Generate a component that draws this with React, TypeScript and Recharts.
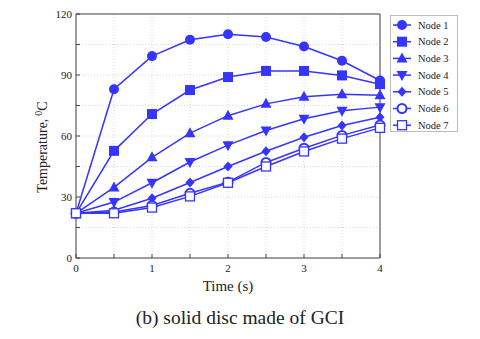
import { LineChart, Line, XAxis, YAxis, CartesianGrid, ReferenceLine, Legend } from 'recharts';

const times = [0, 0.5, 1, 1.5, 2, 2.5, 3, 3.5, 4];
const node1 = [22, 83, 99.3, 107.3, 110, 108.7, 104, 97, 87.3];
const node2 = [22, 52.7, 70.8, 82.6, 89, 92, 92, 89.8, 85.5];
const node3 = [22, 34.7, 49.5, 61.4, 70, 75.8, 79.3, 80.5, 80];
const node4 = [22, 27.5, 37, 47.2, 55.5, 62.7, 68.5, 72.4, 74.2];
const node5 = [22, 23.5, 29.4, 37.1, 45, 52.5, 59.4, 65.2, 69.2];
const node6 = [22, 22.6, 25.8, 31.8, 37.3, 47, 54, 60.3, 65.4];
const node7 = [22, 22, 24.8, 30.3, 37, 45, 52.4, 58.7, 64];

const nodeNames = ['Node 1', 'Node 2', 'Node 3', 'Node 4', 'Node 5', 'Node 6', 'Node 7'];
const nodeShapes = ['circle', 'square', 'triangle', 'triangleDown', 'diamond', 'openCircle', 'openSquare'];
const xTicks = [0, 0.5, 1, 1.5, 2, 2.5, 3, 3.5, 4];
const yTicks = [0, 15, 30, 45, 60, 75, 90, 105, 120];

const BLUE = '#3535ff';
const series = [node1, node2, node3, node4, node5, node6, node7];
const data = times.map((t, i) => {
  const row: Record<string, number> = { t };
  series.forEach((s, k) => (row[`n${k + 1}`] = s[i]));
  return row;
});

const serif = "'Liberation Serif', 'Times New Roman', serif";

function Marker({ shape, cx, cy }: { shape: string; cx: number; cy: number }) {
  switch (shape) {
    case 'circle':
      return <circle cx={cx} cy={cy} r={5} fill={BLUE} />;
    case 'square':
      return <rect x={cx - 5} y={cy - 5} width={10} height={10} fill={BLUE} />;
    case 'triangle':
      return <path d={`M${cx},${cy - 6}L${cx + 5.5},${cy + 4}L${cx - 5.5},${cy + 4}Z`} fill={BLUE} />;
    case 'triangleDown':
      return <path d={`M${cx},${cy + 6}L${cx + 5.5},${cy - 4}L${cx - 5.5},${cy - 4}Z`} fill={BLUE} />;
    case 'diamond':
      return <path d={`M${cx},${cy - 5}L${cx + 4.5},${cy}L${cx},${cy + 5}L${cx - 4.5},${cy}Z`} fill={BLUE} />;
    case 'openCircle':
      return <circle cx={cx} cy={cy} r={4.5} fill="#fff" stroke={BLUE} strokeWidth={2} />;
    default:
      return <rect x={cx - 4.5} y={cy - 4.5} width={9} height={9} fill="#fff" stroke={BLUE} strokeWidth={1.3} />;
  }
}

function LegendBox() {
  return (
    <svg width={68} height={117} style={{ fontFamily: serif }}>
      <rect x={0.5} y={0.5} width={67} height={116} fill="#fff" stroke="#bbb" />
      {nodeNames.map((name, i) => {
        const y = 10 + i * 16.7;
        return (
          <g key={name}>
            <line x1={3} x2={21} y1={y} y2={y} stroke={BLUE} strokeWidth={1.5} />
            <Marker shape={nodeShapes[i]} cx={12} cy={y} />
            <text x={28} y={y + 3.5} fontSize={10.5} fill="#222" style={{ fontFamily: serif }}>
              {name}
            </text>
          </g>
        );
      })}
    </svg>
  );
}

export default function App() {
  return (
    <div style={{ position: 'absolute', left: 0, top: 0, width: 480, height: 339, background: '#fff', fontFamily: serif }}>
      <LineChart width={480} height={339} data={data} margin={{ top: 14, right: 100, bottom: 51, left: 36 }}>
        <CartesianGrid stroke="#d8d8d8" strokeDasharray="1 2" />
        <XAxis
          dataKey="t"
          type="number"
          domain={[0, 4]}
          ticks={xTicks}
          interval={0}
          height={30}
          tickSize={-4}
          tickMargin={10}
          stroke="#444"
          tick={{ fill: '#222', fontSize: 11, fontFamily: serif }}
          tickFormatter={(v: number) => (Number.isInteger(v) ? String(v) : '')}
          label={{ value: 'Time (s)', position: 'insideBottom', offset: -3, fill: '#222', fontSize: 15, fontFamily: serif }}
        />
        <YAxis
          type="number"
          domain={[0, 120]}
          ticks={yTicks}
          interval={0}
          width={40}
          tickSize={-4}
          tickMargin={8}
          stroke="#444"
          tick={{ fill: '#222', fontSize: 11, fontFamily: serif }}
          tickFormatter={(v: number) => (v % 30 === 0 ? String(v) : '')}
          label={{
            content: () => (
              <text transform="translate(47,147) rotate(-90)" textAnchor="middle" fill="#222" fontSize={14} fontFamily={serif}>
                Temperature,
                <tspan dx={3} dy={-5} fontSize={10}>0</tspan>
                <tspan dy={5}>C</tspan>
              </text>
            ),
          }}
        />
        <ReferenceLine x={4} stroke="#444" />
        <ReferenceLine y={120} stroke="#444" />
        {nodeNames.map((name, k) => (
          <Line
            key={name}
            name={name}
            dataKey={`n${k + 1}`}
            stroke={BLUE}
            strokeWidth={1.5}
            isAnimationActive={false}
            dot={(p: any) => <Marker key={`${name}-${p.index}`} shape={nodeShapes[k]} cx={p.cx} cy={p.cy} />}
            activeDot={false}
          />
        ))}
        <Legend
          layout="horizontal"
          verticalAlign="middle"
          align="center"
          wrapperStyle={{ position: 'absolute', left: 390, top: 15, width: 68, height: 117 }}
          content={() => <LegendBox />}
        />
      </LineChart>
      <div style={{ position: 'absolute', left: 0, top: 306, width: 480, textAlign: 'center', fontSize: 19.5, lineHeight: '24px', color: '#222' }}>
        (b) solid disc made of GCI
      </div>
    </div>
  );
}
